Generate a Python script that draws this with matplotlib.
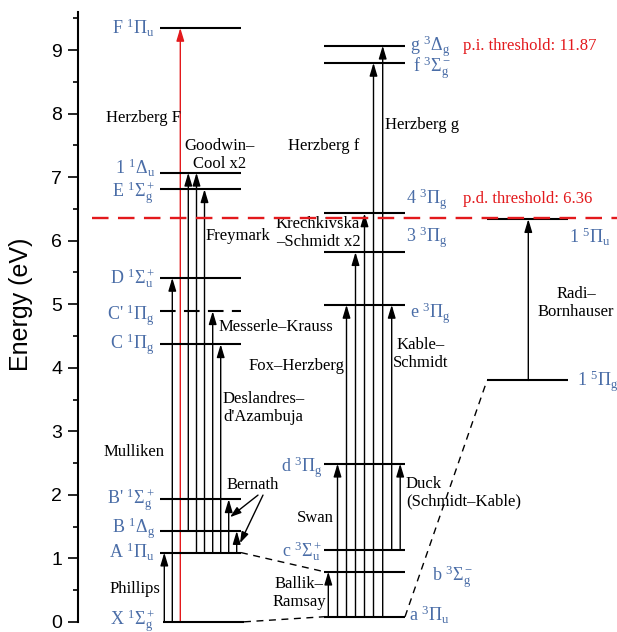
import matplotlib.pyplot as plt

plt.rcParams['font.family'] = 'Liberation Serif'
plt.rcParams['mathtext.fontset'] = 'custom'
plt.rcParams['mathtext.rm'] = 'Liberation Serif'
plt.rcParams['mathtext.it'] = 'Liberation Serif:italic'
plt.rcParams['mathtext.bf'] = 'Liberation Serif:bold'

BLUE = '#4a6da7'
RED = '#e3191c'

# term energies of the C2 states (eV)
singlet_keys = ['X', 'A', 'B', "B'", 'C', "C'", 'D', 'E', '1D', 'F']
singlet_energy = [0.0, 1.09, 1.43, 1.93, 4.37, 4.89, 5.415, 6.81, 7.07, 9.35]
singlet_labels = [r'X $^1\Sigma_\mathrm{g}^+$', r'A $^1\Pi_\mathrm{u}$', r'B $^1\Delta_\mathrm{g}$',
                  r"B' $^1\Sigma_\mathrm{g}^+$", r'C $^1\Pi_\mathrm{g}$', r"C' $^1\Pi_\mathrm{g}$",
                  r'D $^1\Sigma_\mathrm{u}^+$', r'E $^1\Sigma_\mathrm{g}^+$', r'1 $^1\Delta_\mathrm{u}$',
                  r'F $^1\Pi_\mathrm{u}$']

triplet_keys = ['a', 'b', 'c', 'd', 'e', '3P', '4P', 'f', 'g']
triplet_energy = [0.08, 0.79, 1.13, 2.49, 4.99, 5.82, 6.43, 8.80, 9.07]
triplet_labels = [r'a $^3\Pi_\mathrm{u}$', r'b $^3\Sigma_\mathrm{g}^-$', r'c $^3\Sigma_\mathrm{u}^+$',
                  r'd $^3\Pi_\mathrm{g}$', r'e $^3\Pi_\mathrm{g}$', r'3 $^3\Pi_\mathrm{g}$',
                  r'4 $^3\Pi_\mathrm{g}$', r'f $^3\Sigma_\mathrm{g}^-$', r'g $^3\Delta_\mathrm{g}$']

quintet_keys = ['5g', '5u']
quintet_energy = [3.80, 6.34]
quintet_labels = [r'1 $^5\Pi_\mathrm{g}$', r'1 $^5\Pi_\mathrm{u}$']

# observed band systems (lower, upper)
singlet_bands = [('X', 'A'), ('X', 'D'), ('B', '1D'), ('A', '1D'), ('A', 'E'),
                 ('A', "C'"), ('A', 'C'), ('A', "B'"), ('A', 'B')]
triplet_bands = [('a', 'b'), ('a', 'd'), ('a', 'e'), ('a', '3P'), ('a', '4P'),
                 ('a', 'f'), ('a', 'g'), ('c', 'e'), ('c', 'd')]
quintet_bands = [('5g', '5u')]
herzberg_F = ('X', 'F')

pd_threshold = 6.36
pi_threshold = 11.87

band_names = ['Herzberg F', 'Goodwin\u2013\nCool x2', 'Freymark', 'Krechkivska\n\u2013Schmidt x2',
              'Messerle\u2013Krauss', 'Fox\u2013Herzberg', 'Deslandres\u2013\nd\'Azambuja', 'Mulliken',
              'Bernath', 'Phillips', 'Ballik\u2013\nRamsay', 'Swan', 'Duck\n(Schmidt\u2013Kable)',
              'Kable\u2013\nSchmidt', 'Herzberg f', 'Herzberg g', 'Radi\u2013\nBornhauser']

energy = dict(zip(singlet_keys + triplet_keys + quintet_keys,
                  singlet_energy + triplet_energy + quintet_energy))

# horizontal layout (canvas units)
col_singlet = (160, 241)
col_triplet = (324, 405)
col_quintet = (487, 568)
x_singlet = [164.3, 172.3, 188.3, 196.5, 204.5, 212.7, 220.7, 228.7, 236.7]
x_herzberg_F = 180.3
x_triplet = [328.3, 337.5, 346.5, 355.5, 364.5, 373.5, 382.7, 391.7, 400.2]
x_quintet = [528.3]

# label anchors: (x, y, ha)
singlet_pos = [(155, 0.04, 'right'), (155, 1.10, 'right'), (155, 1.495, 'right'), (155, 1.94, 'right'),
               (155, 4.38, 'right'), (155, 4.845, 'right'), (155, 5.42, 'right'), (155, 6.78, 'right'),
               (155, 7.145, 'right'), (155, 9.35, 'right')]
triplet_pos = [(409, 0.105, 'left'), (432, 0.73, 'left'), (322, 1.13, 'right'), (323, 2.45, 'right'),
               (410, 4.88, 'left'), (406, 6.07, 'left'), (406, 6.67, 'left'), (413, 8.74, 'left'),
               (410, 9.08, 'left')]
quintet_pos = [(577, 3.80, 'left'), (569, 6.06, 'left')]
band_pos = [(143, 7.93, 'center'), (220, 7.355, 'center'), (237.5, 6.07, 'center'), (318, 6.12, 'center'),
            (275.5, 4.64, 'center'), (296.5, 4.025, 'center'), (223, 3.365, 'left'), (134.5, 2.67, 'center'),
            (252.5, 2.15, 'center'), (135, 0.515, 'center'), (299, 0.46, 'center'), (315, 1.63, 'center'),
            (406, 2.034, 'left'), (421, 4.22, 'center'), (324, 7.49, 'center'), (422, 7.82, 'center'),
            (576, 5.02, 'center')]

fig = plt.figure(figsize=(6.17, 6.32), dpi=100)
ax = fig.add_axes([78 / 617, 0, 539 / 617, 620 / 632])
ax.set_xlim(78, 617)
ax.set_ylim(-0.16, 9.6)

head = dict(arrowstyle='-|>,head_length=0.6,head_width=0.18', mutation_scale=13,
            shrinkA=0, shrinkB=0, lw=1.0)


def draw_levels(keys, col):
    for k in keys:
        ls = (0, (7.5, 4)) if k == "C'" else '-'
        x0, x1 = col
        if k == 'X':
            x0, x1 = 163, 244
        ax.plot([x0, x1], [energy[k], energy[k]], color='black', lw=1.5, ls=ls,
                solid_capstyle='butt', zorder=3)


def draw_bands(bands, xs, color='black'):
    for (lo, up), x in zip(bands, xs):
        ax.annotate('', xy=(x, energy[up]), xytext=(x, energy[lo]),
                    arrowprops=dict(head, color=color), zorder=2)


draw_levels(singlet_keys, col_singlet)
draw_levels(triplet_keys, col_triplet)
draw_levels(quintet_keys, col_quintet)

draw_bands(singlet_bands, x_singlet)
draw_bands(triplet_bands, x_triplet)
draw_bands(quintet_bands, x_quintet)
draw_bands([herzberg_F], [x_herzberg_F], color=RED)

# links between the manifolds
links = [((241, energy['A']), (col_triplet[0], energy['b'])),
         ((244, energy['X']), (col_triplet[0], energy['a'])),
         ((col_triplet[1], energy['a']), (col_quintet[0], energy['5g']))]
for (xa, ya), (xb, yb) in links:
    ax.plot([xa, xb], [ya, yb], color='black', lw=1.0, ls=(0, (5, 4)), zorder=2)

# dissociation limit
ax.plot([92, 617], [pd_threshold, pd_threshold], color=RED, lw=1.7, ls=(0, (7, 4)), zorder=4)
ax.text(463, 9.06, f'p.i. threshold: {pi_threshold:.2f}', color=RED, fontsize=12, va='center')
ax.text(463, 6.655, f'p.d. threshold: {pd_threshold:.2f}', color=RED, fontsize=12, va='center')

for labels, pos in [(singlet_labels, singlet_pos), (triplet_labels, triplet_pos),
                    (quintet_labels, quintet_pos)]:
    for lbl, (x, y, ha) in zip(labels, pos):
        ax.annotate(lbl, (x, y), xytext=(0, -4.3), textcoords='offset points',
                    ha=ha, va='baseline', fontsize=13, color=BLUE)

for name, (x, y, ha) in zip(band_names, band_pos):
    ax.text(x, y, name, ha=ha, va='center', fontsize=12, multialignment=ha, linespacing=1.15)

# pointers from the Bernath label
for tail, tip in [((258, 1.995), (230, 1.648)), ((263, 1.995), (240, 1.239))]:
    ax.annotate('', xy=tip, xytext=tail,
                arrowprops=dict(arrowstyle='-|>,head_length=0.6,head_width=0.2', mutation_scale=11,
                                shrinkA=0, shrinkB=0, lw=1.0, color='black'))

for s in ['top', 'right', 'bottom']:
    ax.spines[s].set_visible(False)
ax.spines['left'].set_bounds(0, 9.6)
ax.spines['left'].set_linewidth(1.5)
ax.set_xticks([])
ax.set_yticks(range(0, 10))
ax.set_yticks([v + 0.5 for v in range(0, 10) if v + 0.5 < 9.6], minor=True)
ax.tick_params(axis='y', which='major', length=7.4, width=1.2, labelsize=14, pad=4)
ax.tick_params(axis='y', which='minor', length=3.8, width=1.2)
for t in ax.get_yticklabels():
    t.set_fontfamily('Liberation Sans')
ax.set_ylabel('Energy (eV)', fontsize=18, family='Liberation Sans')
ax.yaxis.set_label_coords(-0.083, 5.16 / 9.76)

plt.savefig('out.png', dpi=100)
